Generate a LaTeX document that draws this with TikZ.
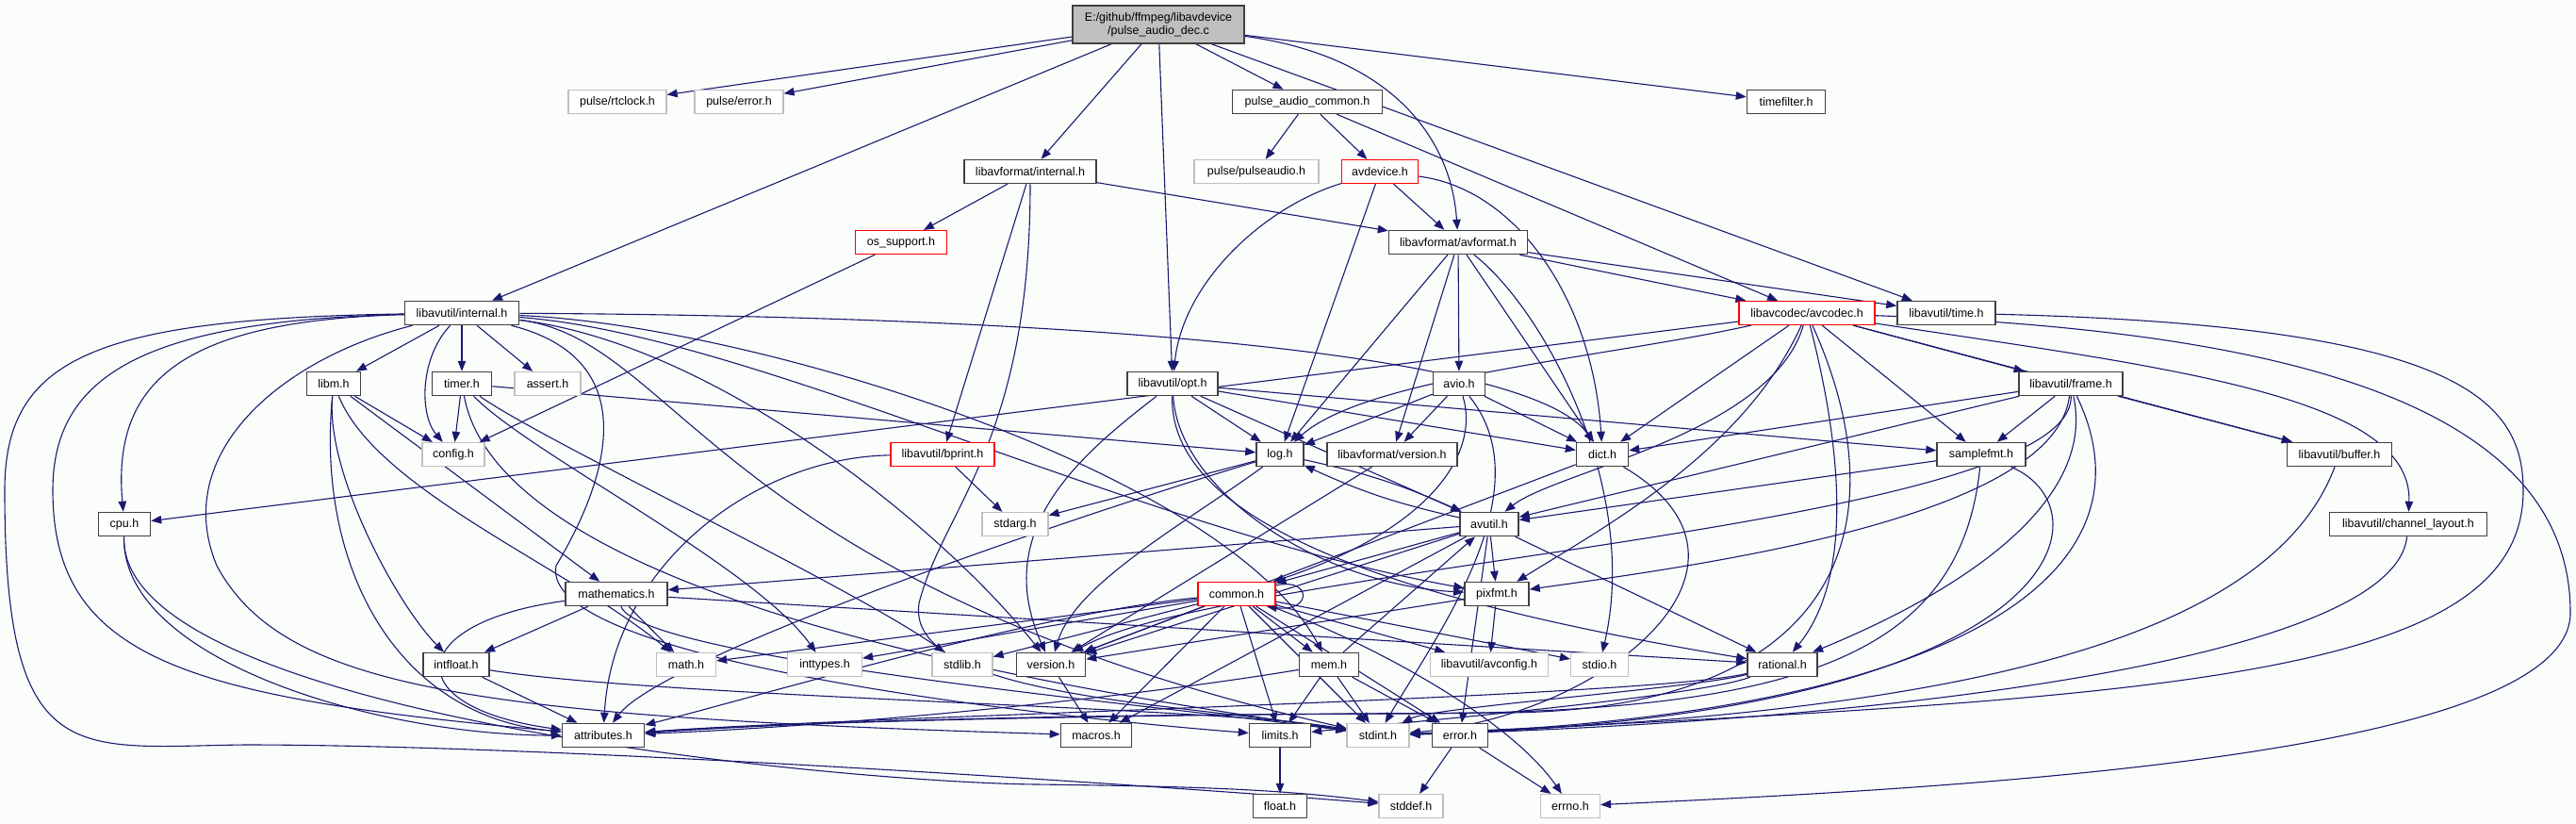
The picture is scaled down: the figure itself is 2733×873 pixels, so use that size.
\documentclass[tikz,border=0pt]{standalone}
\usepackage{fontspec}
\setmainfont{Liberation Sans}
\usetikzlibrary{arrows.meta}
\definecolor{edgecol}{RGB}{25,25,112}
\definecolor{darkb}{RGB}{64,64,64}
\definecolor{greyb}{RGB}{191,191,191}
\definecolor{pagebg}{RGB}{251,253,251}
\pgfdeclarelayer{back}
\pgfdeclarelayer{edges}
\pgfsetlayers{back,edges,main}
\tikzset{
  box/.style={rectangle, fill=white, minimum height=25pt, inner sep=0pt, font=\fontsize{12.5}{14}\selectfont},
  nb/.style={box, draw=darkb, line width=1.5pt},
  gb/.style={box, draw=greyb, line width=1.2pt},
  rb/.style={box, draw=red, line width=1.2pt},
  edge/.style={draw=edgecol, line width=1.1pt, -{Triangle[length=11pt,width=8.5pt]}},
}
\begin{document}
\begin{tikzpicture}[x=1pt,y=-1pt]
\begin{pgfonlayer}{back}
\fill[pagebg] (0,0) rectangle (2733,873);
\end{pgfonlayer}
\useasboundingbox (0,0) rectangle (2733,873);
% row 1
\node[nb, fill=greyb, minimum width=182pt, minimum height=40pt, align=center] (root) at (1229,26) {E:/github/ffmpeg/libavdevice\\/pulse\_audio\_dec.c};
% row 2
\node[gb, minimum width=104pt] (rtclock) at (655,108) {pulse/rtclock.h};
\node[gb, minimum width=94pt] (perror) at (784,108) {pulse/error.h};
\node[nb, minimum width=159pt] (pac) at (1387,108) {pulse\_audio\_common.h};
\node[nb, minimum width=83pt] (timefilter) at (1895,108) {timefilter.h};
% row 3
\node[nb, minimum width=140pt] (finternal) at (1093,182) {libavformat/internal.h};
\node[gb, minimum width=132pt] (pulseaudio) at (1333,182) {pulse/pulseaudio.h};
\node[rb, minimum width=81pt] (avdevice) at (1464,182) {avdevice.h};
% row 4
\node[rb, minimum width=97pt] (ossupport) at (956,257) {os\_support.h};
\node[nb, minimum width=147pt] (avformat) at (1547,257) {libavformat/avformat.h};
% row 5
\node[nb, minimum width=121pt] (uinternal) at (490,332) {libavutil/internal.h};
\node[rb, minimum width=144pt] (avcodec) at (1917,332) {libavcodec/avcodec.h};
\node[nb, minimum width=104pt] (utime) at (2065,332) {libavutil/time.h};
% row 6
\node[nb, minimum width=57pt] (libm) at (354,407) {libm.h};
\node[nb, minimum width=63pt] (timer) at (490,407) {timer.h};
\node[gb, minimum width=70pt] (assert) at (581,407) {assert.h};
\node[nb, minimum width=96pt] (opt) at (1244,407) {libavutil/opt.h};
\node[nb, minimum width=55pt] (avio) at (1548,407) {avio.h};
\node[nb, minimum width=110pt] (frame) at (2197,407) {libavutil/frame.h};
% row 7
\node[gb, minimum width=66pt] (config) at (481,482) {config.h};
\node[rb, minimum width=110pt] (bprint) at (1000,482) {libavutil/bprint.h};
\node[nb, minimum width=50pt] (log) at (1358,482) {log.h};
\node[nb, minimum width=138pt] (fversion) at (1477,482) {libavformat/version.h};
\node[nb, minimum width=55pt] (dict) at (1700,482) {dict.h};
\node[nb, minimum width=94pt] (samplefmt) at (2102,482) {samplefmt.h};
\node[nb, minimum width=111pt] (buffer) at (2482,482) {libavutil/buffer.h};
% row 8
\node[nb, minimum width=55pt] (cpu) at (132,556) {cpu.h};
\node[gb, minimum width=70pt] (stdarg) at (1077,556) {stdarg.h};
\node[nb, minimum width=62pt] (avutil) at (1580,556) {avutil.h};
\node[nb, minimum width=167pt] (chlayout) at (2555,556) {libavutil/channel\_layout.h};
% row 9
\node[nb, minimum width=108pt] (mathematics) at (654,630) {mathematics.h};
\node[rb, minimum width=82pt] (common) at (1312,630) {common.h};
\node[nb, minimum width=68pt] (pixfmt) at (1588,630) {pixfmt.h};
% row 10
\node[nb, minimum width=70pt] (intfloat) at (484,705) {intfloat.h};
\node[gb, minimum width=63pt] (math) at (728,705) {math.h};
\node[gb, minimum width=79pt] (inttypes) at (875,705) {inttypes.h};
\node[gb, minimum width=64pt] (stdlib) at (1021,705) {stdlib.h};
\node[nb, minimum width=73pt] (version) at (1115,705) {version.h};
\node[nb, minimum width=63pt] (mem) at (1410,705) {mem.h};
\node[gb, minimum width=125pt] (avconfig) at (1580,705) {libavutil/avconfig.h};
\node[gb, minimum width=61pt] (stdio) at (1697,705) {stdio.h};
\node[nb, minimum width=74pt] (rational) at (1891,705) {rational.h};
% row 11
\node[nb, minimum width=87pt] (attributes) at (640,780) {attributes.h};
\node[nb, minimum width=75pt] (macros) at (1163,780) {macros.h};
\node[nb, minimum width=65pt] (limits) at (1358,780) {limits.h};
\node[gb, minimum width=66pt] (stdint) at (1462,780) {stdint.h};
\node[nb, minimum width=59pt] (error) at (1549,780) {error.h};
% row 12
\node[nb, minimum width=57pt] (float) at (1358,855) {float.h};
\node[gb, minimum width=68pt] (stddef) at (1497,855) {stddef.h};
\node[gb, minimum width=63pt] (errno) at (1666,855) {errno.h};

\begin{pgfonlayer}{edges}
% root
\draw[edge] (root) -- (rtclock);
\draw[edge] (root) -- (perror);
\draw[edge] (root) -- (uinternal);
\draw[edge] (root) -- (finternal);
\draw[edge] (root) -- (opt);
\draw[edge] (root) -- (pac);
\draw[edge] (root) .. controls (1480,60) and (1540,150) .. (avformat);
\draw[edge] (root) -- (utime);
\draw[edge] (root) -- (timefilter);
% pulse_audio_common
\draw[edge] (pac) -- (pulseaudio);
\draw[edge] (pac) -- (avdevice);
\draw[edge] (pac) -- (avcodec);
% libavformat/internal
\draw[edge] (finternal) -- (ossupport);
\draw[edge] (finternal) -- (avformat);
\draw[edge] (finternal) -- (bprint);
\draw[edge] (finternal) .. controls (1093,470) and (1000,540) .. (975,640) .. controls (960,740) and (1250,745) .. (stdint);
% avdevice
\draw[edge] (avdevice) .. controls (1340,220) and (1255,300) .. (opt);
\draw[edge] (avdevice) -- (avformat);
\draw[edge] (avdevice) -- (log);
\draw[edge] (avdevice) .. controls (1610,200) and (1690,320) .. (dict);
% os_support
\draw[edge] (ossupport) -- (config);
% avformat
\draw[edge] (avformat) -- (utime);
\draw[edge] (avformat) -- (avcodec);
\draw[edge] (avformat) -- (avio);
\draw[edge] (avformat) -- (fversion);
\draw[edge] (avformat) -- (dict);
\draw[edge] (avformat) -- (log);
\draw[edge] (avformat) .. controls (1640,330) and (1740,520) .. (stdio);
% libavutil/internal
\draw[edge] (uinternal) -- (libm);
\draw[edge] (uinternal) -- (timer);
\draw[edge] (uinternal) -- (assert);
\draw[edge] (uinternal) .. controls (445,380) and (445,440) .. (config);
\draw[edge] (uinternal) .. controls (200,340) and (118,400) .. (cpu);
\draw[edge] (uinternal) .. controls (100,338) and (5,380) .. (5,520) .. controls (5,820) and (80,792) .. (260,790) .. controls (600,790) and (1250,835) .. (stddef);
\draw[edge] (uinternal) .. controls (150,340) and (56,400) .. (56,520) .. controls (56,700) and (200,740) .. (attributes);
\draw[edge] (uinternal) .. controls (1100,335) and (1620,370) .. (dict);
\draw[edge] (uinternal) .. controls (800,355) and (1200,560) .. (pixfmt);
\draw[edge] (uinternal) .. controls (760,365) and (1000,560) .. (version);
\draw[edge] (uinternal) .. controls (680,380) and (650,500) .. (590,600) .. controls (570,700) and (1100,760) .. (limits);
\draw[edge] (uinternal) .. controls (300,380) and (180,480) .. (230,600) .. controls (300,730) and (500,760) .. (macros);
\draw[edge] (uinternal) .. controls (800,345) and (1300,500) .. (mem);
\draw[edge] (uinternal) .. controls (720,360) and (760,620) .. (stdint);
% libm
\draw[edge] (libm) -- (config);
\draw[edge] (libm) -- (mathematics);
\draw[edge] (libm) .. controls (345,500) and (420,640) .. (intfloat);
\draw[edge] (libm) .. controls (400,520) and (600,600) .. (math);
\draw[edge] (libm) .. controls (335,600) and (420,760) .. (attributes);
% timer
\draw[edge] (timer) -- (config);
\draw[edge] (timer) -- (log);
\draw[edge] (timer) .. controls (560,480) and (800,600) .. (inttypes);
\draw[edge] (timer) .. controls (580,470) and (900,620) .. (stdlib);
\draw[edge] (timer) .. controls (535,650) and (1200,740) .. (stdint);
% cpu
\draw[edge] (cpu) .. controls (128,700) and (400,780) .. (attributes);
\draw[edge] (cpu) .. controls (125,760) and (900,830) .. (1100,832) .. controls (1250,834) and (1350,836) .. (stddef);
% bprint
\draw[edge] (bprint) -- (stdarg);
\draw[edge] (bprint) .. controls (800,485) and (650,600) .. (attributes);
% log / avutil
\draw[edge] (log) -- (stdarg);
\draw[edge] (log) to[bend left=6] (avutil);
\draw[edge] (avutil) to[bend left=6] (log);
\draw[edge] (log) .. controls (1100,560) and (700,700) .. (attributes);
\draw[edge] (log) .. controls (1250,560) and (1140,620) .. (version);
\draw[edge] (avutil) -- (common);
\draw[edge] (avutil) -- (error);
\draw[edge] (avutil) -- (rational);
\draw[edge] (avutil) -- (version);
\draw[edge] (avutil) -- (macros);
\draw[edge] (avutil) -- (mathematics);
\draw[edge] (avutil) -- (pixfmt);
% opt
\draw[edge] (opt) -- (log);
\draw[edge] (opt) -- (avutil);
\draw[edge] (opt) -- (dict);
\draw[edge] (opt) -- (samplefmt);
\draw[edge] (opt) .. controls (1240,560) and (1500,640) .. (rational);
\draw[edge] (opt) .. controls (1250,520) and (1400,620) .. (pixfmt);
\draw[edge] (opt) .. controls (1150,480) and (1050,560) .. (version);
% avio
\draw[edge] (avio) -- (fversion);
\draw[edge] (avio) -- (log);
\draw[edge] (avio) -- (dict);
\draw[edge] (avio) .. controls (1570,480) and (1520,560) .. (common);
\draw[edge] (avio) .. controls (1640,520) and (1520,680) .. (stdint);
% versions, dict
\draw[edge] (fversion) -- (version);
\draw[edge] (dict) .. controls (1900,600) and (1700,760) .. (stdint);
\draw[edge] (dict) -- (version);
% samplefmt
\draw[edge] (samplefmt) -- (avutil);
\draw[edge] (samplefmt) .. controls (2080,700) and (1900,755) .. (1500,757) .. controls (1000,758) and (800,770) .. (attributes);
\draw[edge] (samplefmt) .. controls (2240,540) and (2200,760) .. (stdint);
% frame
\draw[edge] (frame) -- (samplefmt);
\draw[edge] (frame) -- (dict);
\draw[edge] (frame) -- (avutil);
\draw[edge] (frame) -- (buffer);
\draw[edge] (frame) .. controls (2180,550) and (1800,600) .. (pixfmt);
\draw[edge] (frame) .. controls (2230,560) and (2000,660) .. (rational);
\draw[edge] (frame) .. controls (2290,600) and (2100,758) .. (stdint);
\draw[edge] (frame) .. controls (2200,560) and (1300,600) .. (version);
% leaves to stdint
\draw[edge] (buffer) .. controls (2400,700) and (2000,760) .. (stdint);
\draw[edge] (chlayout) .. controls (2540,700) and (2000,765) .. (stdint);
\draw[edge] (utime) .. controls (2600,345) and (2677,420) .. (2677,520) .. controls (2677,720) and (2300,740) .. (stdint);
% avcodec
\draw[edge] (avcodec) .. controls (2400,350) and (2727,420) .. (2727,650) .. controls (2727,800) and (2100,835) .. (errno);
\draw[edge] (avcodec) -- (frame);
\draw[edge] (avcodec) -- (dict);
\draw[edge] (avcodec) -- (cpu);
\draw[edge] (avcodec) -- (samplefmt);
\draw[edge] (avcodec) -- (buffer);
\draw[edge] (avcodec) .. controls (2300,390) and (2560,420) .. (chlayout);
\draw[edge] (avcodec) .. controls (1700,380) and (1450,400) .. (log);
\draw[edge] (avcodec) .. controls (1880,460) and (1650,500) .. (avutil);
\draw[edge] (avcodec) .. controls (1850,480) and (1700,560) .. (pixfmt);
\draw[edge] (avcodec) .. controls (1960,500) and (1960,620) .. (rational);
\draw[edge] (avcodec) .. controls (2020,560) and (1950,752) .. (1600,756) .. controls (1100,758) and (800,768) .. (attributes);
% rational
\draw[edge] (rational) .. controls (1800,730) and (1520,750) .. (stdint);
\draw[edge] (rational) .. controls (1800,740) and (1450,770) .. (limits);
\draw[edge] (rational) .. controls (1750,740) and (900,760) .. (attributes);
% mathematics
\draw[edge] (mathematics) -- (intfloat);
\draw[edge] (mathematics) -- (math);
\draw[edge] (mathematics) -- (rational);
\draw[edge] (mathematics) .. controls (430,660) and (420,750) .. (attributes);
\draw[edge] (mathematics) .. controls (680,700) and (1250,750) .. (stdint);
% intfloat
\draw[edge] (intfloat) -- (attributes);
\draw[edge] (intfloat) .. controls (700,740) and (1300,750) .. (stdint);
% misc
\draw[edge] (version) -- (macros);
\draw[edge] (limits) -- (float);
\draw[edge] (pixfmt) -- (avconfig);
\draw[edge] (pixfmt) -- (version);
\draw[edge] (error) -- (errno);
\draw[edge] (error) -- (stddef);
% mem
\draw[edge] (mem) -- (error);
\draw[edge] (mem) -- (limits);
\draw[edge] (mem) -- (stdint);
\draw[edge] (mem) -- (avutil);
\draw[edge] (mem) .. controls (1200,740) and (900,770) .. (attributes);
% common
\draw[edge] ([yshift=-4pt]common.north east) .. controls (1392,612) and (1392,650) .. ([xshift=-10pt]common.south east);
\draw[edge] (common) -- (math);
\draw[edge] (common) -- (inttypes);
\draw[edge] (common) -- (stdlib);
\draw[edge] (common) -- (version);
\draw[edge] (common) -- (macros);
\draw[edge] (common) -- (limits);
\draw[edge] (common) -- (mem);
\draw[edge] (common) -- (stdint);
\draw[edge] (common) .. controls (1450,680) and (1600,760) .. (errno);
\draw[edge] (common) -- (stdio);
\draw[edge] (common) -- (avconfig);
\draw[edge] (common) -- (error);
\draw[edge] (common) .. controls (1100,650) and (800,740) .. (attributes);
\end{pgfonlayer}
\end{tikzpicture}
\end{document}
